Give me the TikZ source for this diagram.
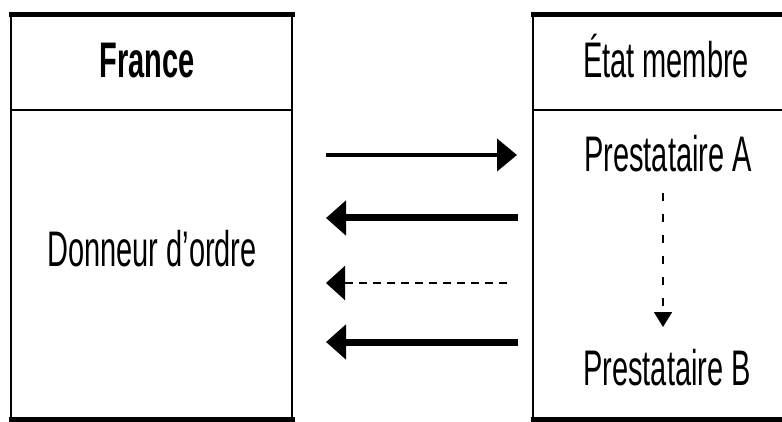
\documentclass[tikz,border=0pt]{standalone}
\usepackage{fontspec}
\setmainfont{Liberation Sans}[FakeStretch=0.58]
\usetikzlibrary{arrows.meta}

\tikzset{
  boxtext/.style={anchor=base, inner sep=0pt, font=\fontsize{50}{60}\selectfont},
  frame/.style={line width=2.5pt},
  edge/.style={line width=5pt, line cap=rect},
  thinarrow/.style={line width=4pt, -{Triangle[length=20pt,width=32pt]}},
  bigarrow/.style={line width=7pt, -{Triangle[length=20pt,width=34pt]}},
  dasharrow/.style={line width=2pt, dash pattern=on 8pt off 6pt, -{Triangle[length=19pt,width=34pt]}},
  vdasharrow/.style={line width=1.8pt, dash pattern=on 8pt off 13pt, -{Triangle[length=15pt,width=18pt]}}
}

\begin{document}
\begin{tikzpicture}[x=1pt,y=-1pt]

    \useasboundingbox (0,0) rectangle (782,422);

    \coordinate (0) at (11,15);
    \coordinate (1) at (292,15);
    \coordinate (2) at (292,419);
    \coordinate (3) at (11,419);
    \coordinate (4) at (533,15);
    \coordinate (5) at (790,15);
    \coordinate (6) at (790,419);
    \coordinate (7) at (533,419);

    % left box
    \draw[frame] (0) -- (3);
    \draw[frame] (1) -- (2);
    \draw[edge] (0) -- (1);
    \draw[edge] (3) -- (2);
    \draw[frame] (11,110) -- (292,110);

    % right box
    \draw[frame] (4) -- (7);
    \draw[frame] (5) -- (6);
    \draw[edge] (4) -- (5);
    \draw[edge] (7) -- (6);
    \draw[frame] (533,110) -- (790,110);

    \node[boxtext, font=\fontsize{50}{60}\selectfont\bfseries] (france) at (147,78) {France};
    \node[boxtext] (etat) at (666,78) {État membre};
    \node[boxtext] (donneur) at (152,267) {Donneur d'ordre};
    \node[boxtext] (prestA) at (668,172) {Prestataire A};
    \node[boxtext] (prestB) at (667,385) {Prestataire B};

    \coordinate (a1) at (326,155);
    \coordinate (b1) at (517,155);
    \coordinate (a2) at (326,218);
    \coordinate (b2) at (518,218);
    \coordinate (a3) at (326,283);
    \coordinate (b3) at (507,283);
    \coordinate (a4) at (326,342);
    \coordinate (b4) at (518,342);
    \coordinate (sA) at (663,193);
    \coordinate (sB) at (663,327);

    \draw[thinarrow] (a1) -- (b1);
    \draw[bigarrow] (b2) -- (a2);
    \draw[dasharrow] (b3) -- (a3);
    \draw[bigarrow] (b4) -- (a4);
    \draw[vdasharrow] (sA) -- (sB);

\end{tikzpicture}
\end{document}
